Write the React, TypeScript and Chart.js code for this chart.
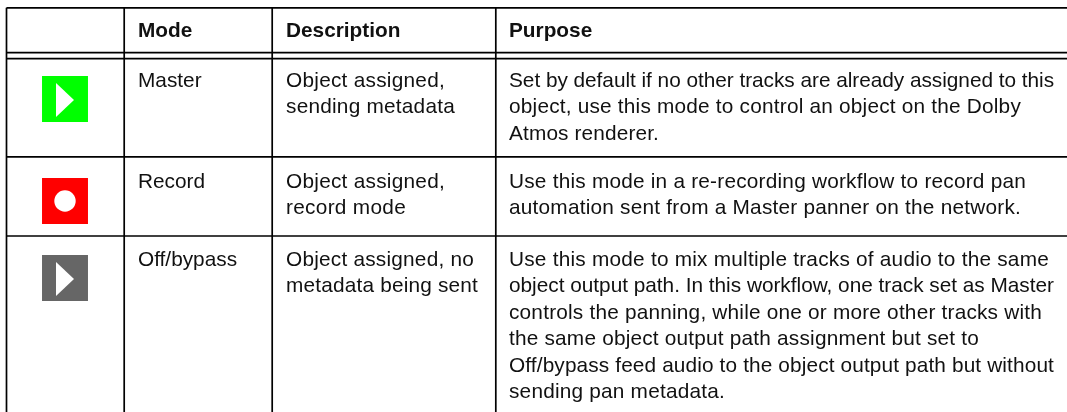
import React, { useEffect, useRef } from "react";
import { Chart, registerables } from "chart.js";

Chart.register(...registerables);

const WIDTH = 1067;
const HEIGHT = 412;

const headers = ["Mode", "Description", "Purpose"];
const modes = ["Master", "Record", "Off/bypass"];
const descriptions = [
  ["Object assigned,", "sending metadata"],
  ["Object assigned,", "record mode"],
  ["Object assigned, no", "metadata being sent"],
];
const purposes = [
  [
    "Set by default if no other tracks are already assigned to this",
    "object, use this mode to control an object on the Dolby",
    "Atmos renderer.",
  ],
  [
    "Use this mode in a re-recording workflow to record pan",
    "automation sent from a Master panner on the network.",
  ],
  [
    "Use this mode to mix multiple tracks of audio to the same",
    "object output path. In this workflow, one track set as Master",
    "controls the panning, while one or more other tracks with",
    "the same object output path assignment but set to",
    "Off/bypass feed audio to the object output path but without",
    "sending pan metadata.",
  ],
];
// Right-hand end of each text line.
const descriptionLineEnds = [
  [445, 455],
  [445, 406],
  [474, 478],
];
const purposeLineEnds = [
  [1054, 1021, 659],
  [1026, 1021],
  [1049, 1054, 1042, 979, 1054, 725],
];

const columnRules = [6.5, 124.2, 272.2, 495.8];
const rowRules = [7.8, 52.7, 58.7, 156.8, 236];
const columnTextX = [138, 286, 509];
const headerBaseline = 37;
const rowBaselines = [87, 188, 266];
const lineStep = 26.4;
const iconX = [65, 65, 65];
const iconY = [99, 201, 278];
const glyphY = [100, 279];
const iconColors = ["#00ff00", "#ff0000", "#666666"];

function playGlyph(): HTMLCanvasElement {
  const c = document.createElement("canvas");
  c.width = 18;
  c.height = 34;
  const g = c.getContext("2d")!;
  g.fillStyle = "#ffffff";
  g.beginPath();
  g.moveTo(0, 0);
  g.lineTo(18, 17);
  g.lineTo(0, 34);
  g.closePath();
  g.fill();
  return c;
}

const tableText = {
  id: "tableText",
  afterDatasetsDraw(chart: any) {
    const { ctx, scales } = chart;
    const X = (v: number) => scales.x.getPixelForValue(v);
    const Y = (v: number) => scales.y.getPixelForValue(v);
    const fitted = (t: string, left: number, end: number, baseline: number) => {
      ctx.letterSpacing = "0px";
      const natural = ctx.measureText(t).width;
      ctx.letterSpacing = `${(end - left - natural) / t.length}px`;
      ctx.fillText(t, X(left), Y(baseline));
      ctx.letterSpacing = "0px";
    };
    ctx.save();
    ctx.fillStyle = "#111111";
    ctx.textBaseline = "alphabetic";
    ctx.textAlign = "left";
    ctx.font = 'bold 20.8px "Liberation Sans"';
    headers.forEach((h, i) => ctx.fillText(h, X(columnTextX[i]), Y(headerBaseline)));
    ctx.font = '20.8px "Liberation Sans"';
    rowBaselines.forEach((base, r) => {
      ctx.fillText(modes[r], X(columnTextX[0]), Y(base));
      descriptions[r].forEach((t, i) =>
        fitted(t, columnTextX[1], descriptionLineEnds[r][i], base + i * lineStep)
      );
      purposes[r].forEach((t, i) =>
        fitted(t, columnTextX[2], purposeLineEnds[r][i], base + i * lineStep)
      );
    });
    ctx.restore();
  },
};

export default function App() {
  const ref = useRef<HTMLCanvasElement>(null);
  useEffect(() => {
    const glyph = playGlyph();
    const rule = (data: { x: number; y: number }[]) => ({
      type: "line" as const,
      data,
      borderColor: "#000000",
      borderWidth: 1.7,
      pointRadius: 0,
      tension: 0,
      order: 3,
    });
    const chart = new Chart(ref.current!, {
      type: "scatter",
      data: {
        datasets: [
          ...columnRules.map((x) => rule([{ x, y: rowRules[0] }, { x, y: HEIGHT }])),
          ...rowRules.map((y) => rule([{ x: columnRules[0], y }, { x: WIDTH, y }])),
          {
            data: iconX.map((x, i) => ({ x, y: iconY[i] })),
            pointStyle: "rect",
            pointRadius: 32.5,
            pointBackgroundColor: iconColors,
            pointBorderWidth: 0,
            order: 2,
          },
          {
            data: [
              { x: iconX[0], y: glyphY[0] },
              { x: iconX[2], y: glyphY[1] },
            ],
            pointStyle: glyph as any,
            pointRadius: 17,
            order: 1,
          },
          {
            data: [{ x: iconX[1], y: iconY[1] }],
            pointStyle: "circle",
            pointRadius: 10.7,
            pointBackgroundColor: "#ffffff",
            pointBorderWidth: 0,
            order: 1,
          },
        ] as any,
      },
      options: {
        animation: false,
        responsive: false,
        layout: { padding: 0, autoPadding: false },
        plugins: { legend: { display: false }, tooltip: { enabled: false } },
        events: [],
        scales: {
          x: { type: "linear", display: false, min: 0, max: WIDTH },
          y: { type: "linear", display: false, min: 0, max: HEIGHT, reverse: true },
        },
      },
      plugins: [tableText],
    });
    return () => chart.destroy();
  }, []);
  return (
    <div style={{ position: "absolute", left: 0, top: 0, width: WIDTH, height: HEIGHT, background: "#fff" }}>
      <canvas ref={ref} width={WIDTH} height={HEIGHT} style={{ display: "block" }} />
    </div>
  );
}
